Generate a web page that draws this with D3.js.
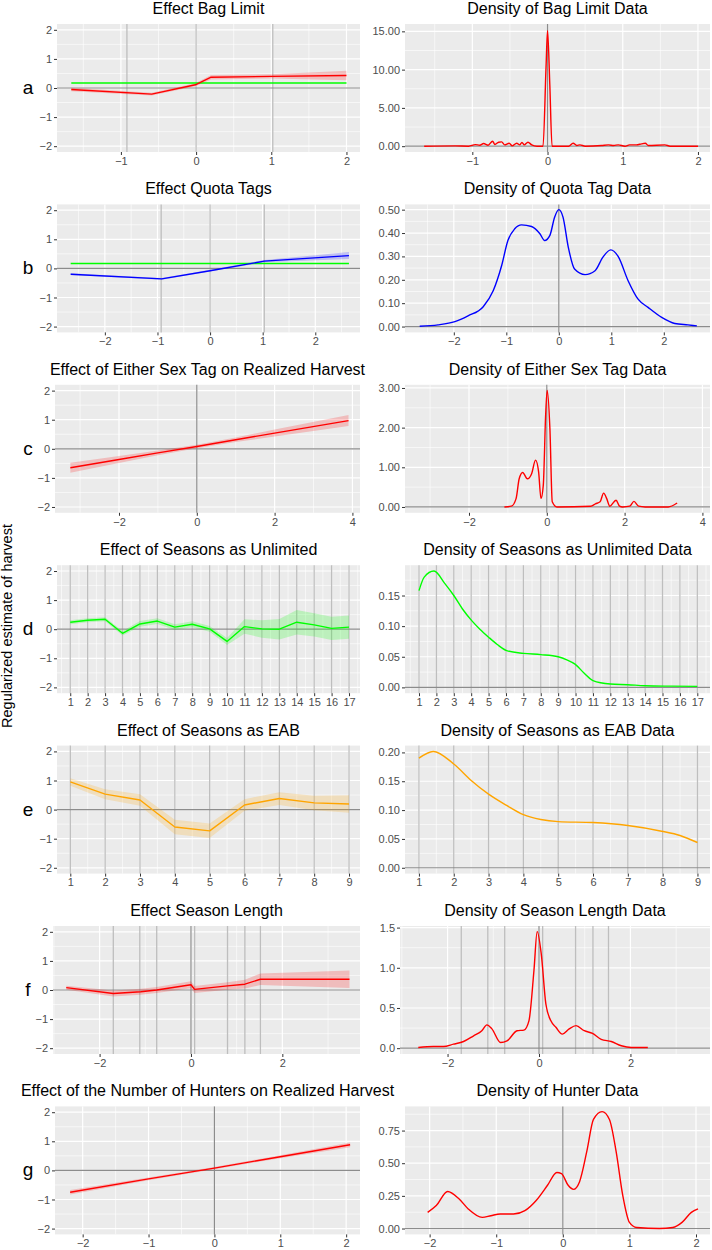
<!DOCTYPE html>
<html>
<head>
<meta charset="utf-8">
<script src="https://cdn.jsdelivr.net/npm/d3@7"></script>
<style>
body { margin: 0; background: #fff; }
</style>
</head>
<body>
<div id="fig"></div>
<script>
// ---- data ----

// a: bag limit
let bagEffX  = [-1.66, -0.59, -0.01, 0.2, 1.0, 2.0];
let bagEffY  = [-0.05, -0.21, 0.11, 0.37, 0.40, 0.43];
let bagEffSE = [0.06, 0.05, 0.05, 0.08, 0.07, 0.16];
let bagFlat  = 0.17;
let bagKnots = [-0.92, 0, 1.02];
let bagDensX = [-1.64,-1.23,-1.05,-0.96,-0.9,-0.85,-0.79,-0.73,-0.70,-0.65,-0.61,-0.57,-0.51,-0.47,-0.41,-0.37,-0.34,-0.31,-0.26,-0.21,-0.14,-0.06,-0.02,0.0,0.03,0.06,0.28,0.34,0.39,0.43,0.50,0.72,0.81,0.88,0.94,1.03,1.09,1.18,1.25,1.30,1.34,1.56,1.63,2.0];
let bagDensY = [0,0.04,0,0.2,0.13,0.35,0.13,0.65,0.22,0.52,0.56,0.17,0.39,0.04,0.39,0.17,0.48,0.17,0.52,0.17,0,0,10.3,15.1,8.1,0,0,0.39,0.09,0.17,0,0.09,0.17,0.09,0.17,0,0.17,0.17,0.3,0.39,0.09,0.17,0,0];

// b: quota tags
let quotaEffX  = [-2.65, -0.92, 0, 1.03, 2.64];
let quotaEffY  = [-0.2, -0.36, -0.08, 0.25, 0.44];
let quotaEffSE = [0.03, 0.03, 0.03, 0.04, 0.12];
let quotaFlat  = 0.17;
let quotaKnots = [-0.93, 0, 1.03];
let quotaDensX = [-2.65,-2.30,-1.98,-1.73,-1.44,-1.25,-1.09,-0.97,-0.84,-0.71,-0.52,-0.36,-0.27,-0.17,-0.08,0.0,0.08,0.18,0.30,0.50,0.69,0.84,0.99,1.13,1.32,1.51,1.70,1.96,2.21,2.46,2.63];
let quotaDensY = [0.001,0.007,0.021,0.046,0.085,0.153,0.26,0.368,0.418,0.435,0.428,0.397,0.368,0.39,0.468,0.50,0.468,0.34,0.246,0.222,0.239,0.297,0.328,0.30,0.196,0.117,0.082,0.039,0.013,0.007,0.003];

// c: either sex tag
let sexEffX  = [-3.25, -2, -1, 0, 1, 2, 3.9];
let sexEffY  = [-0.65, -0.37, -0.14, 0.08, 0.31, 0.54, 0.97];
let sexEffSE = [0.17, 0.12, 0.08, 0.06, 0.08, 0.12, 0.19];
let sexDensX = [-1.09,-0.91,-0.79,-0.71,-0.62,-0.50,-0.39,-0.29,-0.21,-0.15,-0.09,-0.03,0.01,0.08,0.14,0.26,1.13,1.25,1.37,1.46,1.54,1.62,1.78,1.87,1.95,2.13,2.24,2.36,2.53,3.12,3.35];
let sexDensY = [0,0.02,0.21,0.71,0.87,0.71,0.84,1.18,0.88,0.21,0.55,2.31,2.94,1.97,0.13,0,0.02,0.08,0.13,0.35,0.21,0.02,0.17,0.02,0,0.02,0.14,0.02,0,0,0.1];

// d: seasons as unlimited
let unlimSeasons = [1,2,3,4,5,6,7,8,9,10,11,12,13,14,15,16,17];
let unlimEff = [0.24,0.31,0.34,-0.14,0.18,0.28,0.07,0.17,0.01,-0.42,0.09,0.01,0.0,0.24,0.15,0.03,0.07];
let unlimSE  = [0.07,0.07,0.07,0.08,0.1,0.1,0.1,0.1,0.1,0.12,0.25,0.3,0.35,0.42,0.4,0.4,0.4];
let unlimDensX = [1,1.3,1.86,2.5,3,3.5,4.03,4.5,5,5.5,6.04,7,8,9,9.5,9.97,10.5,11,12,13,14,15.5,17];
let unlimDensY = [0.158,0.18,0.19,0.169,0.15,0.128,0.109,0.095,0.082,0.07,0.06,0.0556,0.0535,0.05,0.045,0.038,0.023,0.011,0.0055,0.0044,0.0027,0.002,0.0016];

// e: seasons as EAB
let eabSeasons = [1,2,3,4,5,6,7,8,9];
let eabEff = [0.95,0.53,0.33,-0.6,-0.73,0.16,0.38,0.23,0.19];
let eabSE  = [0.13,0.17,0.2,0.25,0.25,0.2,0.22,0.25,0.3];
let eabDensX = [1,1.41,2.0,2.51,2.99,3.52,4.0,4.5,5.0,6.0,7.0,7.97,8.5,9];
let eabDensY = [0.190,0.2017,0.18,0.151,0.128,0.108,0.092,0.0836,0.080,0.0784,0.0732,0.0634,0.056,0.0438];

// f: season length
let lenEffX  = [-2.73,-1.7,-1.1,-0.75,0.0,0.08,0.8,1.18,1.52,3.47];
let lenEffY  = [0.08,-0.12,-0.06,0.0,0.18,0.02,0.14,0.2,0.37,0.37];
let lenEffSE = [0.07,0.1,0.1,0.1,0.12,0.12,0.13,0.15,0.2,0.3];
let lenKnots = [-1.7,-1.12,-0.75,0.08,0.8,1.18,1.52];
let lenDensX = [-2.64,-2.31,-2.09,-1.87,-1.65,-1.43,-1.25,-1.14,-1.03,-0.84,-0.70,-0.48,-0.33,-0.22,-0.11,-0.04,0.05,0.15,0.26,0.37,0.51,0.66,0.81,0.99,1.17,1.36,1.58,1.80,2.02,2.38];
let lenDensY = [0.008,0.02,0.02,0.05,0.083,0.154,0.217,0.29,0.24,0.07,0.09,0.217,0.225,0.34,0.97,1.45,1.17,0.55,0.34,0.26,0.175,0.24,0.28,0.217,0.183,0.11,0.083,0.03,0.008,0.008];

// g: number of hunters
let huntEffX  = [-2.19, -1, 0, 1, 2.06];
let huntEffY  = [-0.75, -0.29, 0.08, 0.47, 0.88];
let huntEffSE = [0.08, 0.05, 0.04, 0.05, 0.08];
let huntDensX = [-2.03,-1.90,-1.73,-1.56,-1.42,-1.21,-1.08,-0.94,-0.74,-0.57,-0.40,-0.23,-0.09,-0.02,0.08,0.16,0.25,0.36,0.46,0.59,0.70,0.80,0.90,1.0,1.11,1.45,1.65,1.79,1.93,2.03];
let huntDensY = [0.124,0.176,0.284,0.228,0.15,0.085,0.098,0.111,0.111,0.137,0.215,0.331,0.429,0.42,0.331,0.30,0.357,0.59,0.835,0.895,0.835,0.59,0.253,0.047,0.008,0,0.008,0.047,0.124,0.15];

// titles / labels
let leftTitles  = ["Effect Bag Limit", "Effect Quota Tags", "Effect of Either Sex Tag on Realized Harvest",
                   "Effect of Seasons as Unlimited", "Effect of Seasons as EAB", "Effect Season Length",
                   "Effect of the Number of Hunters on Realized Harvest"];
let rightTitles = ["Density of Bag Limit Data", "Density of Quota Tag Data", "Density of Either Sex Tag Data",
                   "Density of Seasons as Unlimited Data", "Density of Seasons as EAB Data",
                   "Density of Season Length Data", "Density of Hunter Data"];
let rowLetters  = ["a", "b", "c", "d", "e", "f", "g"];
let yTitle = "Regularized estimate of harvest";

let effTicks = [-2, -1, 0, 1, 2];

// ---- layout / drawing ----
const FONT = '"Liberation Sans", Arial, Helvetica, sans-serif';
const RED = "#FF0000", GREEN = "#00FF00", BLUE = "#0000FF", ORANGE = "#FFA500";

let rowTop = d3.range(7).map(i => 24 + i * 180.4);
let PH = 128;
let leftL  = [57, 57, 55, 57, 57, 53, 55], leftR = 360;
let rightL = [405, 405, 405, 405, 405, 400, 405], rightR = 710;

let svg = d3.select("#fig").append("svg")
  .attr("width", 712).attr("height", 1250)
  .style("font-family", FONT);

let defs = svg.append("defs");

function band(xs, ys, se, color) { return {type: "band", xs: xs, ys: ys, se: se, color: color}; }
function path(xs, ys, color, smooth) { return {type: "line", xs: xs, ys: ys, color: color, smooth: smooth}; }
function flat(xs, v, color) { return {type: "line", xs: [xs[0], xs[xs.length - 1]], ys: [v, v], color: color}; }

let panels = [
  // row a
  {row: 0, L: leftL[0], R: leftR, xd: [-1.85, 2.18], xt: [-1, 0, 1, 2], yd: [-2.2, 2.2], yt: effTicks, yf: "d",
   knots: bagKnots, vzero: false,
   layers: [band(bagEffX, bagEffY, bagEffSE, RED), flat(bagEffX, bagFlat, GREEN), path(bagEffX, bagEffY, RED)]},
  {row: 0, L: rightL[0], R: rightR, xd: [-1.895, 2.16], xt: [-1, 0, 1, 2], yd: [-0.76, 15.96], yt: [0, 5, 10, 15], yf: ".2f",
   knots: [], vzero: true, layers: [path(bagDensX, bagDensY, RED, true)]},
  // row b
  {row: 1, L: leftL[1], R: leftR, xd: [-2.91, 2.85], xt: [-2, -1, 0, 1, 2], yd: [-2.2, 2.2], yt: effTicks, yf: "d",
   knots: quotaKnots, vzero: false,
   layers: [band(quotaEffX, quotaEffY, quotaEffSE, BLUE), flat(quotaEffX, quotaFlat, GREEN), path(quotaEffX, quotaEffY, BLUE)]},
  {row: 1, L: rightL[1], R: rightR, xd: [-2.93, 2.88], xt: [-2, -1, 0, 1, 2], yd: [-0.025, 0.5225], yt: [0, 0.1, 0.2, 0.3, 0.4, 0.5], yf: ".2f",
   knots: [], vzero: true, layers: [path(quotaDensX, quotaDensY, BLUE, true)]},
  // row c
  {row: 2, L: leftL[2], R: leftR, xd: [-3.645, 4.195], xt: [-2, 0, 2, 4], yd: [-2.2, 2.2], yt: effTicks, yf: "d",
   knots: [], vzero: true, layers: [band(sexEffX, sexEffY, sexEffSE, RED), path(sexEffX, sexEffY, RED)]},
  {row: 2, L: rightL[2], R: rightR, xd: [-3.645, 4.195], xt: [-2, 0, 2, 4], yd: [-0.147, 3.08], yt: [0, 1, 2, 3], yf: ".2f",
   knots: [], vzero: true, layers: [path(sexDensX, sexDensY, RED, true)]},
  // row d
  {row: 3, L: leftL[3], R: leftR, xd: [0.24, 17.63], xt: unlimSeasons, yd: [-2.2, 2.2], yt: effTicks, yf: "d",
   knots: unlimSeasons, vzero: false, layers: [band(unlimSeasons, unlimEff, unlimSE, GREEN), path(unlimSeasons, unlimEff, GREEN)]},
  {row: 3, L: rightL[3], R: rightR, xd: [0.195, 17.73], xt: unlimSeasons, yd: [-0.0095, 0.1995], yt: [0, 0.05, 0.1, 0.15], yf: ".2f",
   knots: unlimSeasons, vzero: false, layers: [path(unlimDensX, unlimDensY, GREEN, true)]},
  // row e
  {row: 4, L: leftL[4], R: leftR, xd: [0.618, 9.315], xt: eabSeasons, yd: [-2.2, 2.2], yt: effTicks, yf: "d",
   knots: eabSeasons, vzero: false, layers: [band(eabSeasons, eabEff, eabSE, ORANGE), path(eabSeasons, eabEff, ORANGE)]},
  {row: 4, L: rightL[4], R: rightR, xd: [0.6, 9.36], xt: eabSeasons, yd: [-0.0101, 0.2118], yt: [0, 0.05, 0.1, 0.15, 0.2], yf: ".2f",
   knots: eabSeasons, vzero: false, layers: [path(eabDensX, eabDensY, ORANGE, true)]},
  // row f
  {row: 5, L: leftL[5], R: leftR, xd: [-3.02, 3.70], xt: [-2, 0, 2], yd: [-2.2, 2.2], yt: effTicks, yf: "d",
   knots: lenKnots, vzero: true, layers: [band(lenEffX, lenEffY, lenEffSE, RED), path(lenEffX, lenEffY, RED)]},
  {row: 5, L: rightL[5], R: rightR, xd: [-3.04, 3.74], xt: [-2, 0, 2], yd: [-0.0725, 1.52], yt: [0, 0.5, 1, 1.5], yf: ".1f",
   knots: lenKnots, vzero: true, layers: [path(lenDensX, lenDensY, RED, true)]},
  // row g
  {row: 6, L: leftL[6], R: leftR, xd: [-2.42, 2.21], xt: [-2, -1, 0, 1, 2], yd: [-2.2, 2.2], yt: effTicks, yf: "d",
   knots: [], vzero: true, layers: [band(huntEffX, huntEffY, huntEffSE, RED), path(huntEffX, huntEffY, RED)]},
  {row: 6, L: rightL[6], R: rightR, xd: [-2.37, 2.21], xt: [-2, -1, 0, 1, 2], yd: [-0.045, 0.935], yt: [0, 0.25, 0.5, 0.75], yf: ".2f",
   knots: [], vzero: true, layers: [path(huntDensX, huntDensY, RED, true)]}
];

function minorsOf(ticks, dom) {
  let step = ticks[1] - ticks[0];
  let out = [];
  for (let i = -1; i < ticks.length; i++) {
    let v = (i < 0 ? ticks[0] - step : ticks[i]) + step / 2;
    if (v > dom[0] && v < dom[1]) out.push(v);
  }
  return out;
}

panels.forEach(function(p, idx) {
  let T = rowTop[p.row], B = T + PH;
  let x = d3.scaleLinear().domain(p.xd).range([p.L, p.R]);
  let y = d3.scaleLinear().domain(p.yd).range([B, T]);
  let g = svg.append("g");

  g.append("rect").attr("x", p.L).attr("y", T).attr("width", p.R - p.L).attr("height", PH).attr("fill", "#EBEBEB");

  // grid
  minorsOf(p.yt, p.yd).forEach(v => g.append("line").attr("x1", p.L).attr("x2", p.R).attr("y1", y(v)).attr("y2", y(v))
    .attr("stroke", "#fff").attr("stroke-width", 0.6));
  minorsOf(p.xt, p.xd).forEach(v => g.append("line").attr("y1", T).attr("y2", B).attr("x1", x(v)).attr("x2", x(v))
    .attr("stroke", "#fff").attr("stroke-width", 0.6));
  p.yt.forEach(v => g.append("line").attr("x1", p.L).attr("x2", p.R).attr("y1", y(v)).attr("y2", y(v))
    .attr("stroke", "#fff").attr("stroke-width", 1.2));
  p.xt.forEach(v => g.append("line").attr("y1", T).attr("y2", B).attr("x1", x(v)).attr("x2", x(v))
    .attr("stroke", "#fff").attr("stroke-width", 1.2));

  // reference lines
  p.knots.forEach(v => g.append("line").attr("y1", T).attr("y2", B).attr("x1", x(v)).attr("x2", x(v))
    .attr("stroke", "#BEBEBE").attr("stroke-width", 1.3));
  if (p.vzero) g.append("line").attr("y1", T).attr("y2", B).attr("x1", x(0)).attr("x2", x(0))
    .attr("stroke", "#8C8C8C").attr("stroke-width", 1.2);
  g.append("line").attr("x1", p.L).attr("x2", p.R).attr("y1", y(0)).attr("y2", y(0))
    .attr("stroke", "#8C8C8C").attr("stroke-width", 1.2);

  // data
  defs.append("clipPath").attr("id", "clip" + idx)
    .append("rect").attr("x", p.L).attr("y", T).attr("width", p.R - p.L).attr("height", PH);
  let dg = g.append("g").attr("clip-path", "url(#clip" + idx + ")");

  p.layers.forEach(function(l) {
    let pts = l.xs.map((v, i) => i);
    if (l.type == "band") {
      let area = d3.area()
        .x(i => x(l.xs[i]))
        .y0(i => y(l.ys[i] - l.se[i]))
        .y1(i => y(l.ys[i] + l.se[i]));
      dg.append("path").attr("d", area(pts)).attr("fill", l.color).attr("fill-opacity", 0.2);
    } else {
      let line = d3.line()
        .x(i => x(l.xs[i]))
        .y(i => y(l.ys[i]))
        .curve(l.smooth ? d3.curveMonotoneX : d3.curveLinear);
      dg.append("path").attr("d", line(pts)).attr("fill", "none").attr("stroke", l.color)
        .attr("stroke-width", 1.4).attr("stroke-linejoin", "round");
    }
  });

  // axes
  let yAxis = g.append("g").attr("transform", `translate(${p.L},0)`)
    .call(d3.axisLeft(y).tickValues(p.yt).tickFormat(d3.format(p.yf)).tickSize(3).tickPadding(2));
  let xAxis = g.append("g").attr("transform", `translate(0,${B})`)
    .call(d3.axisBottom(x).tickValues(p.xt).tickFormat(d3.format("d")).tickSize(3).tickPadding(2));
  [yAxis, xAxis].forEach(function(ax) {
    ax.select(".domain").remove();
    ax.selectAll("line").attr("stroke", "#333333");
    ax.selectAll("text").attr("fill", "#4D4D4D").style("font-size", "11px").style("font-family", FONT);
  });

  // title
  let side = idx % 2;
  svg.append("text")
    .attr("x", (p.L + p.R) / 2).attr("y", T - 10)
    .attr("text-anchor", "middle").style("font-size", "16px").attr("fill", "#000")
    .text(side == 0 ? leftTitles[p.row] : rightTitles[p.row]);

  // row letter
  if (side == 0) {
    svg.append("text")
      .attr("x", 28).attr("y", y(0) + 6)
      .attr("text-anchor", "middle").style("font-size", "19px").attr("fill", "#000")
      .text(rowLetters[p.row]);
  }
});

svg.append("text")
  .attr("transform", "translate(12,626) rotate(-90)")
  .attr("text-anchor", "middle").style("font-size", "14.5px").attr("fill", "#000")
  .text(yTitle);
</script>
</body>
</html>
